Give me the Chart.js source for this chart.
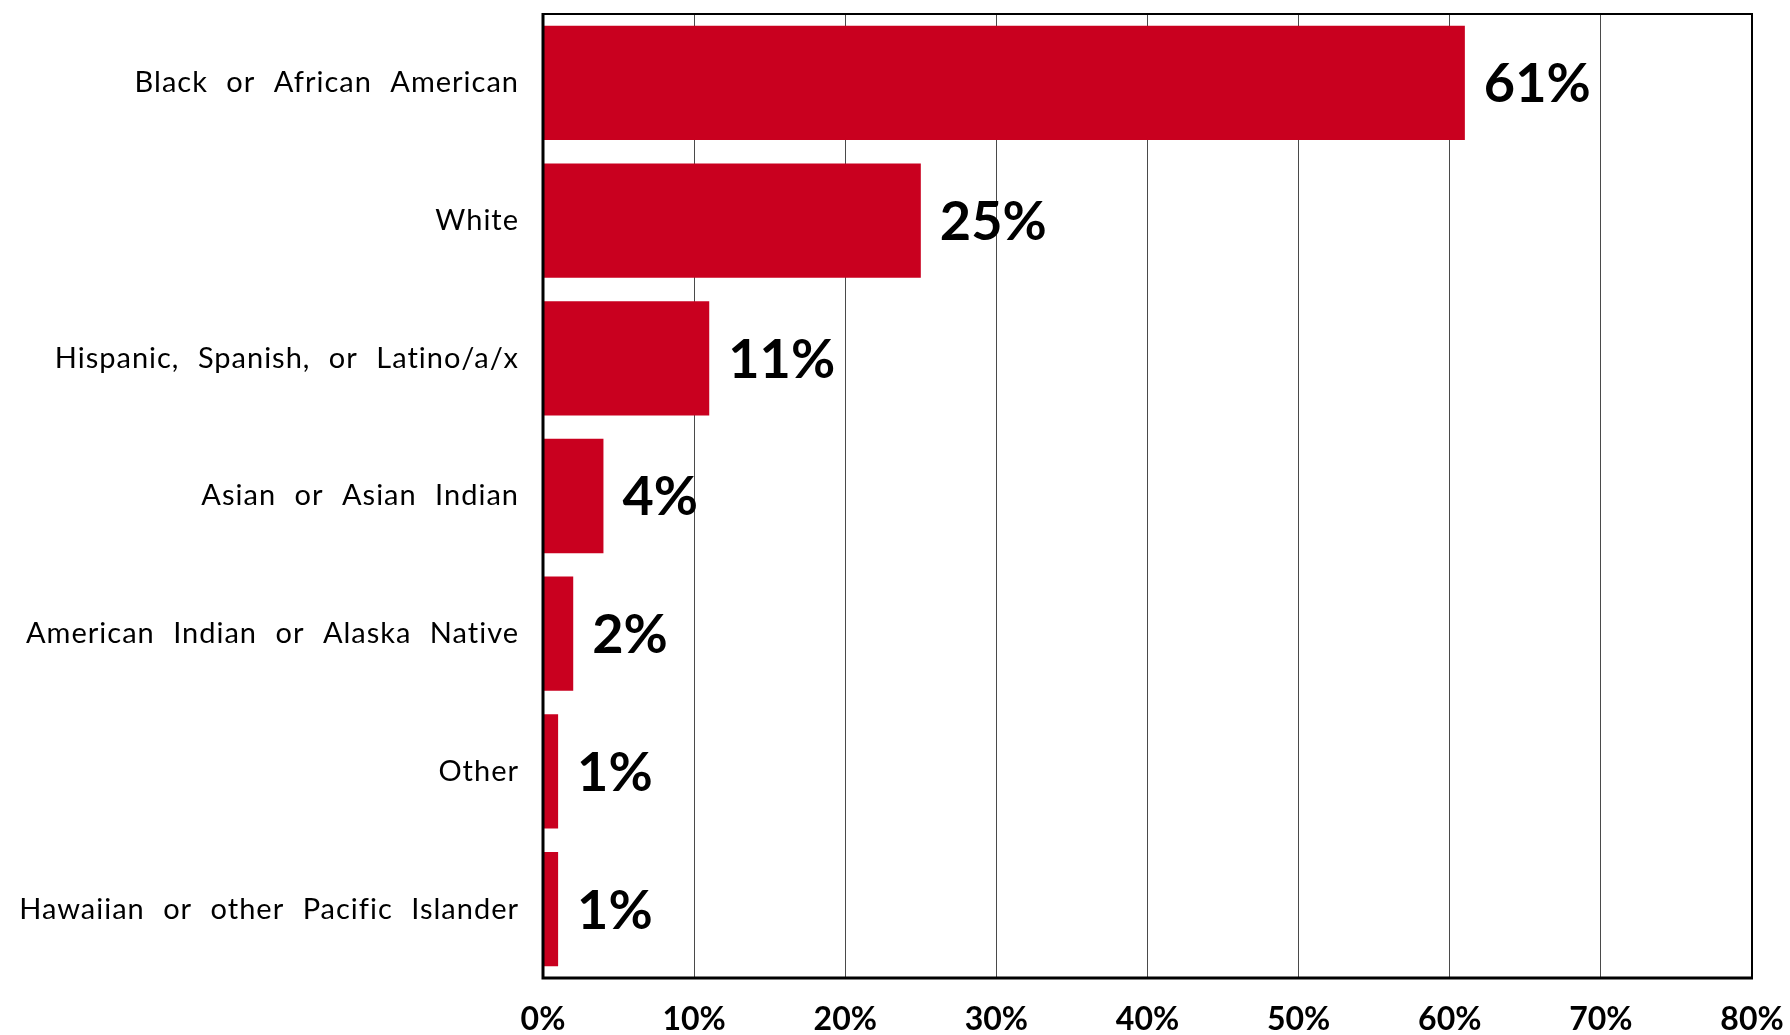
<!DOCTYPE html>
<html>
<head>
<meta charset="utf-8">
<title>Respondents by race and ethnicity</title>
<script src="https://cdn.jsdelivr.net/npm/chart.js@4/dist/chart.umd.min.js"></script>
<style>
  html, body { margin: 0; padding: 0; background: #ffffff; }
  #wrap { width: 1790px; height: 1035px; position: relative; }
</style>
</head>
<body>
<div id="wrap"><canvas id="chart"></canvas></div>
<script>
// Race / ethnicity categories, top to bottom
const categories = [
  'Black or African American',
  'White',
  'Hispanic, Spanish, or Latino/a/x',
  'Asian or Asian Indian',
  'American Indian or Alaska Native',
  'Other',
  'Native Hawaiian or other Pacific Islander'
];

// Share of respondents, percent
const shares = [61, 25, 11, 4, 2, 1, 1];

// Horizontal axis ticks, percent
const xTicks = [0, 10, 20, 30, 40, 50, 60, 70, 80];

const BAR_RED = '#C9001F';

// Value labels to the right of each bar
const valueLabels = {
  id: 'valueLabels',
  afterDatasetsDraw(chart) {
    const { ctx } = chart;
    const meta = chart.getDatasetMeta(0);
    ctx.save();
    ctx.font = 'bold 54px Lato';
    ctx.fillStyle = '#000000';
    ctx.textAlign = 'left';
    ctx.textBaseline = 'middle';
    meta.data.forEach((bar, i) => {
      ctx.fillText(Math.round(shares[i]) + '%', bar.x + 19, bar.y + 2);
    });
    ctx.restore();
  }
};

// Frame around the plotting area: heavy axes on the left and bottom,
// lighter rule on the top and right
const plotFrame = {
  id: 'plotFrame',
  afterDatasetsDraw(chart) {
    const { ctx, chartArea: a } = chart;
    ctx.save();
    ctx.strokeStyle = '#000000';
    ctx.lineWidth = 2;
    ctx.beginPath();
    ctx.moveTo(a.left, a.top);
    ctx.lineTo(a.right, a.top);
    ctx.lineTo(a.right, a.bottom);
    ctx.stroke();
    ctx.lineWidth = 3;
    ctx.beginPath();
    ctx.moveTo(a.left, a.top - 1);
    ctx.lineTo(a.left, a.bottom);
    ctx.lineTo(a.right + 1, a.bottom);
    ctx.stroke();
    ctx.restore();
  }
};

new Chart(document.getElementById('chart'), {
  type: 'bar',
  data: {
    labels: categories,
    datasets: [{
      data: shares,
      backgroundColor: BAR_RED,
      borderWidth: 0,
      barPercentage: 0.83,
      categoryPercentage: 1.0
    }]
  },
  options: {
    indexAxis: 'y',
    responsive: true,
    maintainAspectRatio: false,
    animation: false,
    layout: { padding: { top: 14, right: 38, left: 0, bottom: 0 } },
    plugins: {
      legend: { display: false },
      tooltip: { enabled: false }
    },
    scales: {
      x: {
        min: xTicks[0],
        max: xTicks[xTicks.length - 1],
        afterBuildTicks(scale) {
          scale.ticks = xTicks.map(v => ({ value: v }));
        },
        afterFit(scale) {
          scale.height = 57;
          scale.paddingLeft = 0;
          scale.paddingRight = 0;
        },
        grid: {
          color: '#4a4a4a',
          lineWidth: 1,
          drawTicks: false
        },
        border: { display: false },
        ticks: {
          padding: 22,
          color: '#000000',
          font: { family: 'Lato', size: 32, weight: 'bold' },
          callback: v => v + '%'
        }
      },
      y: {
        afterFit(scale) {
          scale.width = 543;
          scale.paddingTop = 0;
          scale.paddingBottom = 0;
          // category names are set with slightly open letter and word spacing
          if (!scale._openSpacing) {
            const drawLabels = scale.drawLabels;
            scale.drawLabels = function (area) {
              const ctx = this.ctx;
              const ls = ctx.letterSpacing, ws = ctx.wordSpacing;
              ctx.letterSpacing = '1px';
              ctx.wordSpacing = '10px';
              drawLabels.call(this, area);
              ctx.letterSpacing = ls;
              ctx.wordSpacing = ws;
            };
            scale._openSpacing = true;
          }
        },
        grid: { display: false, drawTicks: false },
        border: { display: false },
        ticks: {
          padding: 24,
          color: '#000000',
          font: { family: 'Lato', size: 29 }
        }
      }
    }
  },
  plugins: [valueLabels, plotFrame]
});
</script>
</body>
</html>
